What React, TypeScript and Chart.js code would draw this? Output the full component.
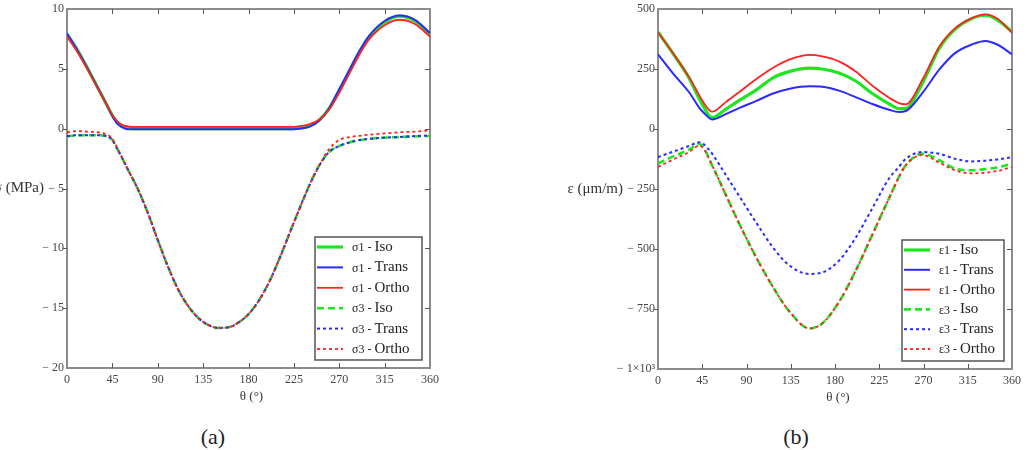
import React, { useEffect, useRef } from "react";
import { Chart, registerables } from "chart.js";
Chart.register(...registerables);

// ---------- data (a): stresses in MPa ----------
const thetaA = [0, 10, 20, 30, 40, 45, 50, 55, 60, 70, 80, 90, 100, 110, 120, 130, 140, 150, 160, 170, 180, 190, 200, 210, 220, 230, 240, 250, 260, 270, 280, 290, 300, 315, 330, 345, 360];
const sigma1Iso = [7.9, 6.6, 5.1, 3.5, 1.9, 1.1, 0.5, 0.2, 0.05, 0, 0, 0, 0, 0, 0, 0, 0, 0, 0, 0, 0, 0, 0, 0, 0, 0.05, 0.2, 0.7, 1.7, 3.2, 4.8, 6.4, 7.7, 8.9, 9.4, 9.0, 7.9];
const sigma1Trans = [7.95, 6.6, 5.1, 3.5, 1.9, 1.05, 0.4, 0.1, -0.05, -0.05, -0.05, -0.05, -0.05, -0.05, -0.05, -0.05, -0.05, -0.05, -0.05, -0.05, -0.05, -0.05, -0.05, -0.05, -0.05, 0.0, 0.15, 0.65, 1.7, 3.3, 4.9, 6.5, 7.8, 9.0, 9.45, 9.1, 8.0];
const sigma1Ortho = [7.7, 6.45, 5.0, 3.45, 1.9, 1.15, 0.6, 0.3, 0.2, 0.15, 0.15, 0.15, 0.15, 0.15, 0.15, 0.15, 0.15, 0.15, 0.15, 0.15, 0.15, 0.15, 0.15, 0.15, 0.15, 0.2, 0.35, 0.75, 1.6, 3.0, 4.6, 6.2, 7.5, 8.65, 9.1, 8.75, 7.7];
const sigma3Iso = [-0.65, -0.55, -0.55, -0.55, -0.65, -0.95, -1.7, -2.5, -3.35, -5.0, -7.0, -9.3, -11.5, -13.4, -14.8, -15.8, -16.4, -16.65, -16.6, -16.2, -15.5, -14.4, -12.9, -11.0, -8.9, -6.8, -4.8, -3.1, -1.95, -1.45, -1.15, -0.95, -0.85, -0.75, -0.7, -0.65, -0.6];
const sigma3Trans = [-0.62, -0.55, -0.55, -0.55, -0.65, -0.95, -1.7, -2.5, -3.35, -5.0, -7.0, -9.3, -11.5, -13.4, -14.8, -15.8, -16.4, -16.65, -16.6, -16.2, -15.5, -14.4, -12.9, -11.0, -8.9, -6.8, -4.8, -3.1, -1.95, -1.45, -1.15, -0.95, -0.85, -0.75, -0.7, -0.62, -0.58];
const sigma3Ortho = [-0.3, -0.2, -0.25, -0.3, -0.5, -0.85, -1.65, -2.5, -3.35, -5.0, -7.0, -9.3, -11.5, -13.4, -14.8, -15.8, -16.4, -16.65, -16.6, -16.2, -15.5, -14.4, -12.9, -11.0, -8.9, -6.8, -4.8, -3.1, -1.7, -0.95, -0.7, -0.6, -0.5, -0.4, -0.3, -0.25, -0.15];
const labelsA = ["σ1 - Iso", "σ1 - Trans", "σ1 - Ortho", "σ3 - Iso", "σ3 - Trans", "σ3 - Ortho"];

// ---------- data (b): strains in µm/m ----------
const thetaB = [0, 15, 32, 42, 46, 55, 69, 83, 100, 117, 134, 154, 167, 184, 201, 218, 235, 245, 252, 269, 286, 302, 319, 333, 345, 360];
const eps1Iso = [405, 316, 210, 125, 95, 47, 83, 120, 163, 213, 240, 254, 250, 233, 200, 148, 105, 85, 86, 192, 336, 415, 460, 474, 455, 405];
const eps1Trans = [311, 233, 151, 88, 70, 40, 62, 88, 117, 148, 168, 178, 176, 160, 133, 104, 80, 71, 75, 151, 247, 316, 352, 367, 352, 311];
const eps1Ortho = [402, 318, 213, 140, 112, 72, 112, 155, 208, 255, 290, 309, 303, 282, 240, 180, 130, 108, 103, 206, 343, 419, 462, 478, 460, 402];
const eps3Iso = [-144, -115, -85, -62, -75, -151, -275, -398, -536, -659, -762, -831, -810, -721, -591, -440, -288, -200, -151, -103, -130, -165, -172, -167, -160, -144];
const eps3Trans = [-117, -95, -70, -55, -62, -103, -192, -282, -391, -494, -570, -604, -598, -549, -453, -330, -206, -158, -124, -96, -103, -124, -135, -132, -127, -117];
const eps3Ortho = [-158, -128, -95, -69, -80, -151, -275, -398, -536, -659, -762, -831, -810, -721, -591, -440, -288, -200, -151, -108, -140, -172, -185, -182, -175, -158];
const labelsB = ["ε1 - Iso", "ε1 - Trans", "ε1 - Ortho", "ε3 - Iso", "ε3 - Trans", "ε3 - Ortho"];

const xTickStep = 45;
const GREEN = "#1ee61e";
const BLUE = "#2a2aff";
const RED = "#ff2222";
const SERIF = "'Liberation Serif', 'DejaVu Serif', serif";

const styles = [
  { color: GREEN, width: 3.2, dash: [] as number[] },
  { color: BLUE, width: 2, dash: [] as number[] },
  { color: RED, width: 1.8, dash: [] as number[] },
  { color: GREEN, width: 2.6, dash: [7, 4] },
  { color: BLUE, width: 2, dash: [3, 3] },
  { color: RED, width: 1.8, dash: [3, 3] },
];

function buildDatasets(theta: number[], series: number[][], labels: string[]) {
  return series.map((vals, i) => ({
    label: labels[i],
    data: vals.map((v, k) => ({ x: theta[k], y: v })),
    borderColor: styles[i].color,
    borderWidth: styles[i].width,
    borderDash: styles[i].dash,
    pointRadius: 0,
    fill: false,
    tension: 0.4,
    cubicInterpolationMode: "monotone" as const,
    order: series.length - i,
  }));
}

type Cfg = {
  yTitle: string;
  yTitleRight: number;
  yTitleAt: number;
  legend: { x: number; y: number; w: number; h: number; first: number; step: number };
};

function makePlugin(cfg: Cfg) {
  return {
    id: "mathcadFrame",
    beforeDatasetsDraw(chart: any) {
      const { ctx, chartArea: a, scales } = chart;
      ctx.save();
      ctx.strokeStyle = "#8c8c8c";
      ctx.lineWidth = 2;
      ctx.strokeRect(a.left, a.top, a.right - a.left, a.bottom - a.top);
      ctx.strokeStyle = "#555";
      ctx.lineWidth = 1;
      const L = 5;
      ctx.beginPath();
      for (const t of scales.x.ticks) {
        const px = Math.round(scales.x.getPixelForValue(t.value)) + 0.5;
        if (px < a.left + 3 || px > a.right - 3) continue;
        ctx.moveTo(px, a.top);
        ctx.lineTo(px, a.top + L);
        ctx.moveTo(px, a.bottom);
        ctx.lineTo(px, a.bottom - L);
      }
      for (const t of scales.y.ticks) {
        const py = Math.round(scales.y.getPixelForValue(t.value)) + 0.5;
        if (py < a.top + 3 || py > a.bottom - 3) continue;
        ctx.moveTo(a.left - 4, py);
        ctx.lineTo(a.left, py);
        ctx.moveTo(a.right, py);
        ctx.lineTo(a.right - L, py);
      }
      ctx.stroke();
      ctx.restore();
    },
    afterDraw(chart: any) {
      const { ctx, chartArea: a, scales } = chart;
      ctx.save();
      // axis titles
      ctx.fillStyle = "#333";
      ctx.textBaseline = "middle";
      ctx.font = `15px ${SERIF}`;
      ctx.textAlign = "right";
      ctx.fillText(cfg.yTitle, cfg.yTitleRight, scales.y.getPixelForValue(cfg.yTitleAt));
      ctx.textAlign = "center";
      ctx.font = `13px ${SERIF}`;
      ctx.fillText("θ (°)", (a.left + a.right) / 2 + 3, a.bottom + 29);
      // legend
      const b = cfg.legend;
      ctx.fillStyle = "#fff";
      ctx.fillRect(b.x, b.y, b.w, b.h);
      ctx.strokeStyle = "#555";
      ctx.lineWidth = 1.5;
      ctx.strokeRect(b.x, b.y, b.w, b.h);
      chart.data.datasets.forEach((ds: any, i: number) => {
        const y = b.y + b.first + i * b.step;
        ctx.strokeStyle = ds.borderColor;
        ctx.lineWidth = ds.borderWidth;
        ctx.setLineDash(ds.borderDash || []);
        ctx.beginPath();
        ctx.moveTo(b.x + 2, y);
        ctx.lineTo(b.x + 28, y);
        ctx.stroke();
        ctx.setLineDash([]);
        const parts = String(ds.label).split(" - ");
        ctx.fillStyle = "#222";
        ctx.textAlign = "left";
        ctx.textBaseline = "middle";
        ctx.font = `12px ${SERIF}`;
        const pre = parts[0] + " - ";
        ctx.fillText(pre, b.x + 37, y + 1);
        const w = ctx.measureText(pre).width;
        ctx.font = `15px ${SERIF}`;
        ctx.fillText(parts[1], b.x + 37 + w, y);
      });
      ctx.restore();
    },
  };
}

function minusLabel(v: number): string {
  if (v === -1000) return "− 1×10³";
  return v < 0 ? "− " + Math.abs(v) : String(v);
}

type PanelProps = {
  left: number;
  width: number;
  height: number;
  padRight: number;
  padTop: number;
  yAxisWidth: number;
  xAxisHeight: number;
  yMin: number;
  yMax: number;
  yStep: number;
  datasets: any[];
  cfg: Cfg;
};

function Panel(p: PanelProps) {
  const ref = useRef<HTMLCanvasElement | null>(null);
  useEffect(() => {
    if (!ref.current) return;
    const tickFont = { family: SERIF, size: 12, lineHeight: 1 };
    const chart = new Chart(ref.current, {
      type: "line",
      data: { datasets: p.datasets },
      options: {
        animation: false,
        responsive: false,
        maintainAspectRatio: false,
        layout: { padding: { left: 0, right: p.padRight, top: p.padTop, bottom: 0 } },
        plugins: { legend: { display: false }, tooltip: { enabled: false } },
        scales: {
          x: {
            type: "linear",
            min: 0,
            max: 360,
            grid: { display: false, drawTicks: false },
            border: { display: false },
            ticks: { stepSize: xTickStep, autoSkip: false, maxRotation: 0, padding: 6, color: "#444", font: tickFont },
            afterFit: (s: any) => { s.height = p.xAxisHeight; },
          },
          y: {
            type: "linear",
            min: p.yMin,
            max: p.yMax,
            grid: { display: false, drawTicks: false },
            border: { display: false },
            ticks: { stepSize: p.yStep, autoSkip: false, padding: 3, color: "#444", font: tickFont, callback: (v: any) => minusLabel(Number(v)) },
            afterFit: (s: any) => { s.width = p.yAxisWidth; },
          },
        },
      },
      plugins: [makePlugin(p.cfg)],
    } as any);
    return () => chart.destroy();
  }, []);
  return (
    <canvas
      ref={ref}
      width={p.width}
      height={p.height}
      style={{ position: "absolute", left: p.left, top: 0, width: p.width, height: p.height }}
    />
  );
}

export default function App() {
  const dsA = buildDatasets(thetaA, [sigma1Iso, sigma1Trans, sigma1Ortho, sigma3Iso, sigma3Trans, sigma3Ortho], labelsA);
  const dsB = buildDatasets(thetaB, [eps1Iso, eps1Trans, eps1Ortho, eps3Iso, eps3Trans, eps3Ortho], labelsB);
  const capStyle: React.CSSProperties = {
    position: "absolute",
    top: 424,
    width: 100,
    textAlign: "center",
    fontFamily: SERIF,
    fontSize: 22,
    lineHeight: "26px",
    color: "#222",
  };
  return (
    <div style={{ position: "absolute", left: 0, top: 0, width: 1027, height: 450, background: "#fff", overflow: "hidden" }}>
      <Panel
        left={0}
        width={445}
        height={420}
        padRight={14}
        padTop={6}
        yAxisWidth={67}
        xAxisHeight={52}
        yMin={-20}
        yMax={10}
        yStep={5}
        datasets={dsA}
        cfg={{ yTitle: "σ (MPa)", yTitleRight: 44, yTitleAt: -5, legend: { x: 315, y: 237, w: 107, h: 123, first: 10, step: 20.4 } }}
      />
      <Panel
        left={540}
        width={487}
        height={420}
        padRight={14}
        padTop={5}
        yAxisWidth={118}
        xAxisHeight={51}
        yMin={-1000}
        yMax={500}
        yStep={250}
        datasets={dsB}
        cfg={{ yTitle: "ε (μm/m)", yTitleRight: 83, yTitleAt: -250, legend: { x: 362, y: 240, w: 102, h: 121, first: 10, step: 19.8 } }}
      />
      <div style={{ ...capStyle, left: 213 - 50 }}>(a)</div>
      <div style={{ ...capStyle, left: 796 - 50 }}>(b)</div>
    </div>
  );
}
